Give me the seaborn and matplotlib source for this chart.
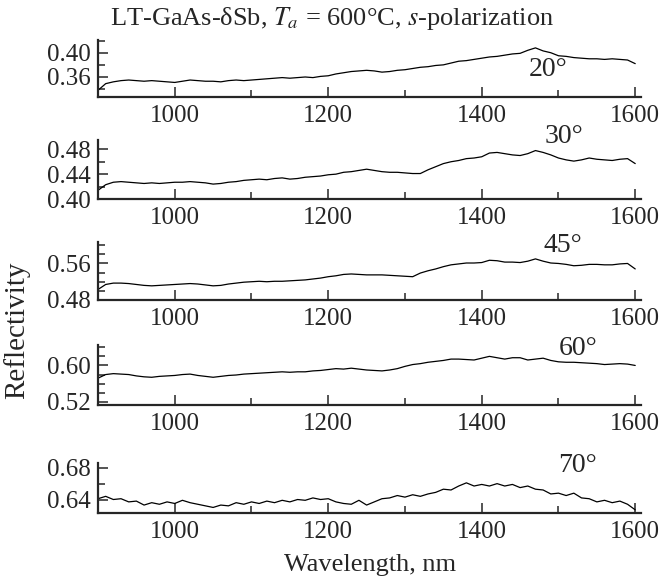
import numpy as np
import seaborn as sns
import matplotlib.pyplot as plt
from matplotlib.ticker import MultipleLocator, FixedLocator

# wavelength grid, nm
wavelength = np.arange(900, 1610, 10)

# reflectivity
r20 = [0.338, 0.349, 0.352, 0.354, 0.355, 0.354, 0.353, 0.354, 0.353, 0.352,
       0.351, 0.353, 0.355, 0.354, 0.353, 0.353, 0.352, 0.354, 0.355, 0.354,
       0.355, 0.356, 0.357, 0.358, 0.359, 0.358, 0.359, 0.360, 0.359, 0.361,
       0.362, 0.365, 0.367, 0.369, 0.370, 0.371, 0.370, 0.368, 0.369, 0.371,
       0.372, 0.374, 0.376, 0.377, 0.379, 0.380, 0.383, 0.386, 0.387, 0.389,
       0.391, 0.393, 0.394, 0.396, 0.398, 0.399, 0.404, 0.408, 0.403, 0.400,
       0.395, 0.394, 0.392, 0.391, 0.390, 0.390, 0.389, 0.390, 0.389, 0.388,
       0.382]
r30 = [0.414, 0.423, 0.427, 0.428, 0.427, 0.426, 0.425, 0.426, 0.425, 0.426,
       0.427, 0.427, 0.428, 0.427, 0.426, 0.424, 0.425, 0.427, 0.428, 0.430,
       0.431, 0.432, 0.431, 0.433, 0.434, 0.432, 0.433, 0.435, 0.436, 0.437,
       0.439, 0.440, 0.443, 0.444, 0.446, 0.448, 0.446, 0.444, 0.443, 0.443,
       0.442, 0.441, 0.441, 0.447, 0.452, 0.457, 0.460, 0.462, 0.465, 0.466,
       0.468, 0.474, 0.475, 0.473, 0.471, 0.470, 0.473, 0.478, 0.475, 0.471,
       0.466, 0.463, 0.461, 0.463, 0.466, 0.464, 0.463, 0.462, 0.464, 0.465,
       0.457]
r45 = [0.503, 0.514, 0.517, 0.517, 0.516, 0.514, 0.512, 0.511, 0.512, 0.513,
       0.514, 0.515, 0.516, 0.515, 0.513, 0.511, 0.512, 0.515, 0.517, 0.519,
       0.520, 0.521, 0.520, 0.521, 0.521, 0.522, 0.523, 0.524, 0.526, 0.528,
       0.531, 0.533, 0.536, 0.537, 0.536, 0.535, 0.535, 0.535, 0.534, 0.533,
       0.532, 0.531, 0.539, 0.544, 0.548, 0.553, 0.557, 0.559, 0.561, 0.561,
       0.562, 0.567, 0.566, 0.563, 0.563, 0.562, 0.565, 0.570, 0.565, 0.561,
       0.560, 0.558, 0.555, 0.556, 0.558, 0.558, 0.557, 0.557, 0.559, 0.560,
       0.548]
r60 = [0.572, 0.580, 0.582, 0.581, 0.580, 0.577, 0.575, 0.574, 0.576, 0.577,
       0.578, 0.580, 0.581, 0.578, 0.576, 0.574, 0.576, 0.578, 0.579, 0.581,
       0.582, 0.583, 0.584, 0.585, 0.586, 0.585, 0.586, 0.586, 0.588, 0.589,
       0.591, 0.593, 0.592, 0.594, 0.592, 0.590, 0.589, 0.588, 0.590, 0.593,
       0.598, 0.602, 0.604, 0.607, 0.609, 0.611, 0.614, 0.614, 0.613, 0.612,
       0.616, 0.620, 0.617, 0.614, 0.617, 0.617, 0.612, 0.614, 0.616, 0.611,
       0.608, 0.607, 0.607, 0.606, 0.605, 0.604, 0.602, 0.603, 0.604, 0.603,
       0.600]
r70 = [0.641, 0.644, 0.640, 0.641, 0.637, 0.638, 0.633, 0.636, 0.634, 0.637,
       0.635, 0.639, 0.636, 0.634, 0.632, 0.630, 0.633, 0.632, 0.636, 0.634,
       0.637, 0.635, 0.638, 0.636, 0.639, 0.637, 0.640, 0.639, 0.642, 0.640,
       0.641, 0.637, 0.635, 0.634, 0.639, 0.633, 0.637, 0.641, 0.642, 0.645,
       0.643, 0.646, 0.644, 0.647, 0.649, 0.653, 0.652, 0.657, 0.661, 0.657,
       0.659, 0.657, 0.660, 0.657, 0.659, 0.655, 0.657, 0.653, 0.652, 0.647,
       0.648, 0.645, 0.648, 0.642, 0.641, 0.637, 0.639, 0.636, 0.638, 0.634,
       0.627]

angles = ["20°", "30°", "45°", "60°", "70°"]
series = [r20, r30, r45, r60, r70]
ylims = [(0.327, 0.421), (0.40, 0.495), (0.48, 0.607), (0.513, 0.645), (0.623, 0.686)]
yticks = [[0.36, 0.40], [0.40, 0.44, 0.48], [0.48, 0.56], [0.52, 0.60], [0.64, 0.68]]
label_pos = [(1486, 0.372), (1507, 0.500), (1506, 0.600), (1525, 0.6375), (1525, 0.683)]

sns.set_style("ticks")
plt.rcParams["font.family"] = ["Liberation Serif", "DejaVu Serif"]
plt.rcParams["mathtext.fontset"] = "stix"

fig = plt.figure(figsize=(6.59, 5.81), dpi=100)

# panel boxes in pixels (top, bottom)
boxes = [(40, 97), (140, 199), (242, 300), (345, 405), (463, 513)]
left, width = 98 / 659, 542.6 / 659

for (top, bot), vals, lim, ticks, ang, pos in zip(boxes, series, ylims, yticks, angles, label_pos):
    ax = fig.add_axes([left, 1 - bot / 581, width, (bot - top) / 581])
    sns.lineplot(x=wavelength, y=vals, ax=ax, color="black", lw=0.9)
    ax.set_xlim(900, 1607)
    ax.set_ylim(*lim)
    ax.xaxis.set_major_locator(MultipleLocator(200))
    ax.xaxis.set_minor_locator(MultipleLocator(100))
    ax.yaxis.set_major_locator(FixedLocator(ticks))
    ax.yaxis.set_minor_locator(MultipleLocator(0.02))
    ax.yaxis.set_major_formatter(plt.FormatStrFormatter("%.2f"))
    ax.tick_params(which="both", direction="in", width=1.1, labelsize=18)
    ax.tick_params(which="major", length=7)
    ax.tick_params(which="minor", length=5)
    ax.tick_params(axis="x", pad=6)
    ax.tick_params(axis="y", pad=5)
    for s in ["left", "bottom"]:
        ax.spines[s].set_linewidth(1.6)
    sns.despine(ax=ax)
    ax.set_xlabel("")
    ax.set_ylabel("")
    ax.text(pos[0], pos[1], ang, fontsize=20, ha="center", va="center", clip_on=False)

fig.text(0.503, 0.969, "LT-GaAs-δSb, $T_a$ = 600°C, $s$-polarization",
         ha="center", va="center", fontsize=19)
fig.text(0.026, 0.432, "Reflectivity", rotation=90, ha="center", va="center", fontsize=21)
fig.text(0.561, 0.027, "Wavelength, nm", ha="center", va="center", fontsize=19)

plt.savefig("out.png", dpi=100)
